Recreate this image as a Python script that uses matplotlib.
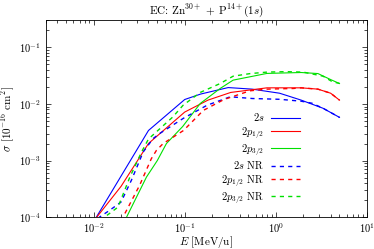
import matplotlib
matplotlib.use("Agg")
import matplotlib.pyplot as plt
import numpy as np

plt.rcParams['font.family'] = 'serif'
plt.rcParams['font.serif'] = ['cmr10', 'DejaVu Serif']
plt.rcParams['mathtext.fontset'] = 'cm'
plt.rcParams['axes.formatter.use_mathtext'] = True
plt.rcParams['font.size'] = 8

# 2s (relativistic)
e_2s = [0.01, 0.04, 0.1, 0.15, 0.3, 0.55, 1.1, 1.9, 3.3, 5.0]
s_2s = [8.3e-5, 3.4e-3, 1.2e-2, 1.5e-2, 1.95e-2, 1.83e-2, 1.55e-2, 1.17e-2, 8.4e-3, 5.8e-3]

# 2p1/2
e_2p12 = [0.01, 0.02, 0.04, 0.1, 0.18, 0.32, 0.8, 1.9, 2.9, 4.0, 5.0]
s_2p12 = [8.5e-5, 3.5e-4, 2.0e-3, 7.2e-3, 1.17e-2, 1.6e-2, 1.93e-2, 1.93e-2, 1.83e-2, 1.55e-2, 1.17e-2]

# 2p3/2
e_2p32 = [0.02, 0.023, 0.038, 0.05, 0.063, 0.095, 0.148, 0.245, 0.34, 0.8, 1.9, 2.9, 4.0, 5.0]
s_2p32 = [6.5e-5, 1e-4, 5.1e-4, 1.0e-3, 2.0e-3, 4.0e-3, 1.02e-2, 1.88e-2, 2.64e-2, 3.47e-2, 3.6e-2, 3.45e-2, 2.7e-2, 2.3e-2]

# non-relativistic
e_2s_nr = [0.01, 0.0116, 0.015, 0.02, 0.026, 0.035, 0.045, 0.053, 0.097, 0.176, 0.316, 0.55, 1.1, 1.9, 2.5, 3.3, 5.0]
s_2s_nr = [7e-5, 1e-4, 1.32e-4, 1.85e-4, 4.5e-4, 1.42e-3, 2.45e-3, 3.0e-3, 5.6e-3, 9.5e-3, 1.34e-2, 1.25e-2, 1.21e-2, 1.12e-2, 1.03e-2, 8.4e-3, 5.8e-3]

e_2p12_nr = [0.02, 0.032, 0.043, 0.049, 0.058, 0.097, 0.16, 0.27, 0.52, 0.8, 1.56, 1.9, 2.9, 4.0, 5.0]
s_2p12_nr = [8.6e-5, 3.66e-4, 1.08e-3, 1.52e-3, 2.0e-3, 3.4e-3, 7.7e-3, 1.2e-2, 1.71e-2, 1.83e-2, 1.88e-2, 1.93e-2, 1.83e-2, 1.55e-2, 1.17e-2]

e_2p32_nr = [0.012, 0.0132, 0.0185, 0.025, 0.0336, 0.04, 0.074, 0.096, 0.148, 0.245, 0.34, 0.52, 0.8, 1.3, 2.0, 3.3, 4.2, 5.0]
s_2p32_nr = [8.5e-5, 1e-4, 1.5e-4, 5.1e-4, 1.42e-3, 2.4e-3, 5.9e-3, 9.5e-3, 1.6e-2, 2.3e-2, 3.1e-2, 3.44e-2, 3.66e-2, 3.73e-2, 3.66e-2, 3.1e-2, 2.46e-2, 2.31e-2]

blue = '#0000ff'
red = '#ff0000'
green = '#00e000'

fig = plt.figure(figsize=(3.74, 2.49), dpi=100)
ax = fig.add_axes([0.123, 0.128, 0.858, 0.79])

lw = 0.8
ax.plot(e_2s, s_2s, color=blue, lw=lw, label='$2s$')
ax.plot(e_2p12, s_2p12, color=red, lw=lw, label='$2p_{1/2}$')
ax.plot(e_2p32, s_2p32, color=green, lw=lw, label='$2p_{3/2}$')
ax.plot(e_2s_nr, s_2s_nr, color=blue, lw=1.0, ls=(0, (3, 3)), label='$2s$ NR')
ax.plot(e_2p12_nr, s_2p12_nr, color=red, lw=1.0, ls=(0, (3, 3)), label='$2p_{1/2}$ NR')
ax.plot(e_2p32_nr, s_2p32_nr, color=green, lw=1.0, ls=(0, (3, 3)), label='$2p_{3/2}$ NR')

ax.set_xscale('log')
ax.set_yscale('log')
ax.set_xlim(0.003, 10)
ax.set_ylim(1e-4, 0.3)
ax.tick_params(which='both', direction='in', top=True, right=True, width=0.5, labelsize=7.5)
ax.tick_params(which='major', length=3.5)
ax.tick_params(axis='x', which='major', pad=3)
ax.tick_params(axis='y', which='major', pad=4)
ax.tick_params(which='minor', length=2)
for sp in ax.spines.values():
    sp.set_linewidth(0.6)

ax.set_xlabel('$E$ [MeV/u]', fontsize=8, labelpad=-1)
ax.set_ylabel(r'$\sigma$ [10$^{-16}$ cm$^2$]', fontsize=8, labelpad=1)
ax.set_title(r'EC: Zn$^{30+}$ + P$^{14+}$(1$s$)', fontsize=8, pad=5)

ax.legend(loc='lower right', bbox_to_anchor=(0.82, 0.01), frameon=False,
          markerfirst=False, handlelength=2.8, handletextpad=0.6,
          labelspacing=0.15, fontsize=7.5)

fig.savefig('out.png', dpi=100)
